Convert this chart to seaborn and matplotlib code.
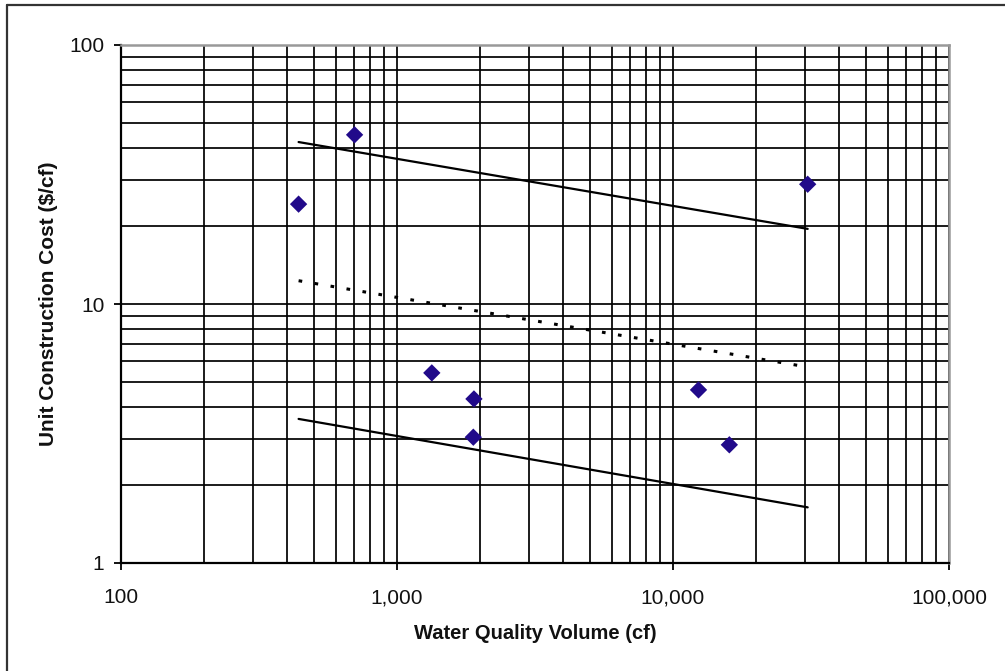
import numpy as np
import pandas as pd
import matplotlib
matplotlib.use("Agg")
import matplotlib.pyplot as plt
from matplotlib.ticker import FixedLocator, FixedFormatter, NullFormatter, LogLocator
from matplotlib.lines import Line2D
import seaborn as sns

# ---- data ----
volume = [440, 702, 1337, 1900, 1890, 12370, 16000, 30760]
unit_cost = [24.3, 45.0, 5.42, 4.3, 3.06, 4.66, 2.86, 29.0]

line_x = [440, 30760]
upper_y = [42.2, 19.5]
trend_y = [12.3, 5.71]
lower_y = [3.6, 1.64]

x_ticks = [100, 1000, 10000, 100000]
x_tick_labels = ["100", "1,000", "10,000", "100,000"]
y_ticks = [1, 10, 100]
y_tick_labels = ["1", "10", "100"]

x_label = "Water Quality Volume (cf)"
y_label = "Unit Construction Cost ($/cf)"

# ---- style ----
sns.set_theme(style="white")
plt.rcParams["font.family"] = ["Liberation Sans", "DejaVu Sans"]

fig = plt.figure(figsize=(10.05, 6.71), dpi=100)
ax = fig.add_axes([121 / 1005, 1 - 563 / 671, 828 / 1005, 518 / 671])

ax.set_xscale("log")
ax.set_yscale("log")
ax.set_xlim(100, 100000)
ax.set_ylim(1, 100)

# grid: major + minor, black
ax.xaxis.set_minor_locator(LogLocator(base=10, subs=np.arange(2, 10)))
ax.yaxis.set_minor_locator(LogLocator(base=10, subs=np.arange(2, 10)))
ax.grid(True, which="both", color="black", linewidth=1.25)
ax.set_axisbelow(True)

df_pts = pd.DataFrame({"volume": volume, "cost": unit_cost})
sns.scatterplot(data=df_pts, x="volume", y="cost", marker="D", s=78,
                color="#210a8a", edgecolor="none", linewidth=0, ax=ax, zorder=5)

df_up = pd.DataFrame({"x": line_x, "y": upper_y})
df_tr = pd.DataFrame({"x": line_x, "y": trend_y})
df_lo = pd.DataFrame({"x": line_x, "y": lower_y})
sns.lineplot(data=df_up, x="x", y="y", color="black", linewidth=1.6, ax=ax, zorder=4)
sns.lineplot(data=df_lo, x="x", y="y", color="black", linewidth=1.6, ax=ax, zorder=4)
sns.lineplot(data=df_tr, x="x", y="y", color="black", linewidth=2.2,
             linestyle=(0, (1.2, 4.1)), ax=ax, zorder=4)

ax.xaxis.set_major_locator(FixedLocator(x_ticks))
ax.xaxis.set_major_formatter(FixedFormatter(x_tick_labels))
ax.xaxis.set_minor_formatter(NullFormatter())
ax.yaxis.set_major_locator(FixedLocator(y_ticks))
ax.yaxis.set_major_formatter(FixedFormatter(y_tick_labels))
ax.yaxis.set_minor_formatter(NullFormatter())

ax.tick_params(axis="both", which="major", direction="out", length=5, width=1.3,
               color="black", labelsize=15, labelcolor="#111111", bottom=True, left=True)
ax.tick_params(axis="x", which="major", pad=13)
ax.tick_params(axis="y", which="major", pad=7)
ax.tick_params(axis="both", which="minor", length=0)

for side in ["left", "bottom"]:
    ax.spines[side].set_color("black")
    ax.spines[side].set_linewidth(1.6)
for side in ["top", "right"]:
    ax.spines[side].set_color("#999999")
    ax.spines[side].set_linewidth(1.8)

ax.set_xlabel(x_label, fontsize=14.5, fontweight="bold", color="#111111")
ax.set_ylabel(y_label, fontsize=15, fontweight="bold", color="#111111")
ax.xaxis.set_label_coords(0.5, -0.118)
ax.yaxis.set_label_coords(-0.076, 0.5)

# figure frame (top and left edges visible)
fig.add_artist(Line2D([7 / 1005, 1.0], [1 - 5 / 671, 1 - 5 / 671], transform=fig.transFigure,
                      color="#333333", linewidth=1.6))
fig.add_artist(Line2D([7 / 1005, 7 / 1005], [0.0, 1 - 5 / 671], transform=fig.transFigure,
                      color="#333333", linewidth=1.6))

fig.savefig("out.png", dpi=100)
